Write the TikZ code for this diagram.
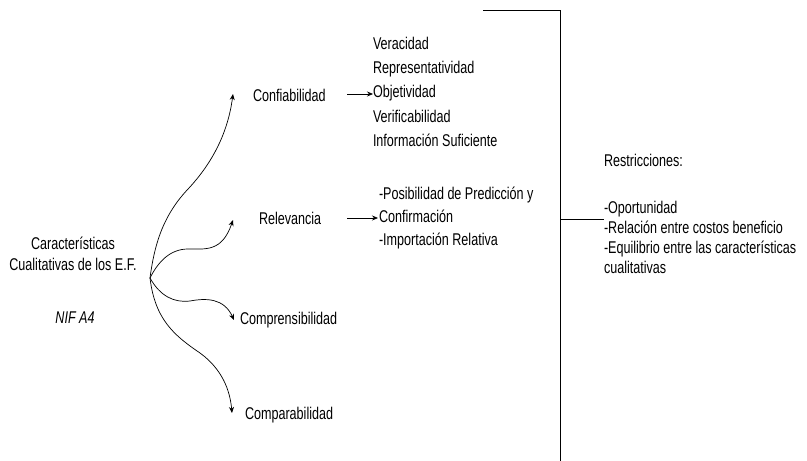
\documentclass[tikz,border=0pt]{standalone}
\usepackage{fontspec}
\setmainfont{Liberation Sans}[FakeStretch=0.74]
\usetikzlibrary{arrows.meta}
\begin{document}
\begin{tikzpicture}[x=1pt,y=-1pt,
  txt/.style={inner sep=0pt,outer sep=0pt,font=\fontsize{17}{20}\selectfont},
  lst/.style={txt,align=left,anchor=north west},
  link/.style={line width=0.7pt,-{Stealth[length=6pt,width=5pt]}},
  rule/.style={line width=0.8pt}]
\useasboundingbox (0,0) rectangle (807,461);

% central topic
\node[txt,align=center,anchor=north,font=\fontsize{17}{21}\selectfont] (car) at (73,237)
  {Características\\Cualitativas de los E.F.};
\node[txt,anchor=center,font=\fontsize{17}{20}\selectfont\itshape] (nif) at (75,318) {NIF A4};

% the four characteristics
\node[txt,anchor=west] (conf) at (253,95) {Confiabilidad};
\node[txt,anchor=west] (rel)  at (259,218) {Relevancia};
\node[txt,anchor=west] (comp) at (240,320) {Comprensibilidad};
\node[txt,anchor=west] (cmpa) at (245,415) {Comparabilidad};

% sub-lists
\node[lst,font=\fontsize{17}{24.25}\selectfont] (conflist) at (373,37)
  {Veracidad\\Representatividad\\Objetividad\\Verificabilidad\\Información Suficiente};
\node[lst,font=\fontsize{17}{23}\selectfont] (rellist) at (379,187)
  {-Posibilidad de Predicción y\\Confirmación\\-Importación Relativa};
\node[lst] (restr) at (604,154)
  {Restricciones:\\[27.5pt]-Oportunidad\\-Relación entre costos beneficio\\-Equilibrio entre las características\\cualitativas};

% curved connectors from the central topic
\coordinate (hub) at (150,278);
\coordinate (tconf) at (233,94);
\coordinate (trel)  at (233,220);
\coordinate (tcomp) at (234,320);
\coordinate (tcmpa) at (232,413);
\draw[link] (hub) .. controls (155,240) and (165,213) .. (189,188)
                  .. controls (213,162) and (228,132) .. (tconf);
\draw[link] (hub) .. controls (158,262) and (170,249) .. (188,249)
                  .. controls (206,249) and (222,252) .. (trel);
\draw[link] (hub) .. controls (160,296) and (174,303) .. (190,301)
                  .. controls (206,298) and (224,298) .. (tcomp);
\draw[link] (hub) .. controls (155,320) and (175,336) .. (200,353)
                  .. controls (222,369) and (230,390) .. (tcmpa);

% short arrows to the sub-lists
\coordinate (aconf) at (347,94);
\coordinate (arel)  at (347,218);
\draw[link] (aconf) -- (aconf -| conflist.west);
\draw[link] (arel) -- (378,218);

% bracket of restrictions
\coordinate (btop) at (483,10);
\coordinate (bcorner) at (560,10);
\coordinate (bbot) at (560,461);
\coordinate (bmid) at (560,219);
\draw[rule] (btop) -- (bcorner) -- (bbot);
\draw[rule] (bmid) -- (bmid -| restr.west);
\end{tikzpicture}
\end{document}
